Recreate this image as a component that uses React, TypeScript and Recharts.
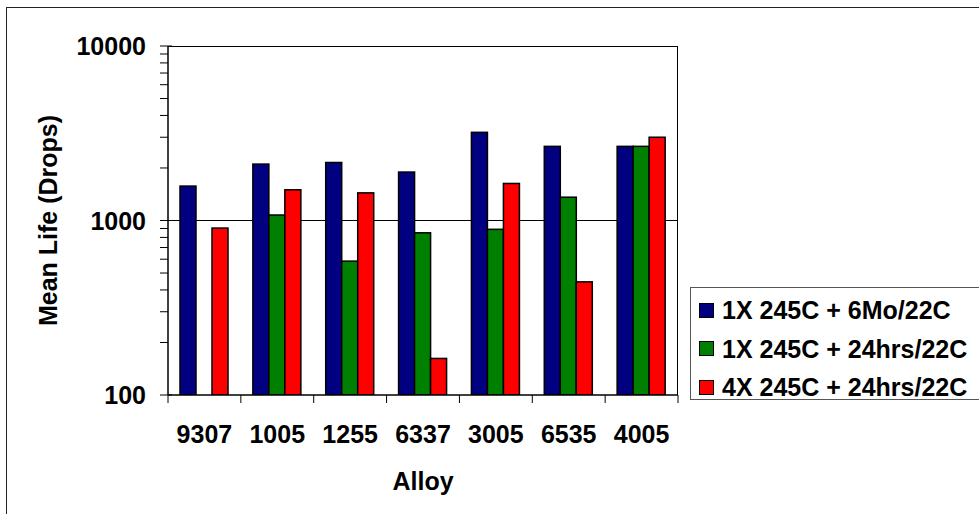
import React from "react";
import {
  Bar,
  BarChart,
  CartesianGrid,
  XAxis,
  YAxis,
} from "recharts";

const alloys = ["9307", "1005", "1255", "6337", "3005", "6535", "4005"];
const sixMonths = [1575, 2105, 2150, 1895, 3200, 2660, 2660];
const oneX24hrs = [null, 1075, 585, 850, 890, 1360, 2660];
const fourX24hrs = [905, 1500, 1440, 162, 1630, 445, 3000];

const seriesNames = [
  "1X 245C + 6Mo/22C",
  "1X 245C + 24hrs/22C",
  "4X 245C + 24hrs/22C",
];
const seriesColors = ["#000080", "#008000", "#FF0000"];

const majorTicks = [100, 1000, 10000];
const gridValues = [1000];
const yTicks = [
  100, 200, 300, 400, 500, 600, 700, 800, 900,
  1000, 2000, 3000, 4000, 5000, 6000, 7000, 8000, 9000, 10000,
];

const W = 979;
const H = 514;
const PLOT_LEFT = 168;
const PLOT_TOP = 46;
const PLOT_RIGHT = 678;
const PLOT_BOTTOM = 395;
const FONT = "'Liberation Sans', Arial, sans-serif";

const data = alloys.map((alloy, i) => ({
  alloy,
  s0: sixMonths[i],
  s1: oneX24hrs[i],
  s2: fourX24hrs[i],
}));

const bandHalf = (PLOT_RIGHT - PLOT_LEFT) / alloys.length / 2;

const YTick = (props: any) => {
  const { x, y, payload } = props;
  const v = payload.value;
  const major = majorTicks.includes(v);
  return (
    <g>
      <line x1={x - 8} x2={major ? x + 4 : x} y1={y} y2={y} stroke="#000" strokeWidth={1} />
      {major && (
        <text
          x={x - 22}
          y={y + 9}
          textAnchor="end"
          fontFamily={FONT}
          fontWeight="bold"
          fontSize={25}
          fill="#000"
        >
          {v}
        </text>
      )}
    </g>
  );
};

const XTick = (props: any) => {
  const { x, y, payload, index } = props;
  return (
    <g>
      <line x1={x - bandHalf} x2={x - bandHalf} y1={y} y2={y + 8} stroke="#000" />
      {index === alloys.length - 1 && (
        <line x1={x + bandHalf} x2={x + bandHalf} y1={y} y2={y + 8} stroke="#000" />
      )}
      <text
        x={x}
        y={y + 48}
        textAnchor="middle"
        fontFamily={FONT}
        fontWeight="bold"
        fontSize={25}
        fill="#000"
      >
        {payload.value}
      </text>
    </g>
  );
};

const OutlinedBar = (props: any) => {
  const { x, y, width, height, fill } = props;
  if (!height || height <= 0) return null;
  return (
    <rect x={x} y={y} width={width} height={height} fill={fill} stroke="#000" strokeWidth={1.5} />
  );
};

export default function App() {
  return (
    <div
      style={{
        position: "absolute",
        left: 0,
        top: 0,
        width: W,
        height: H,
        overflow: "hidden",
        background: "#fff",
      }}
    >
      <div
        style={{
          position: "absolute",
          left: 6,
          top: 7,
          width: W,
          height: H,
          borderLeft: "1.5px solid #222",
          borderTop: "1.5px solid #222",
        }}
      />
      <BarChart
        width={W}
        height={H}
        data={data}
        margin={{ top: PLOT_TOP, right: W - PLOT_RIGHT, bottom: 0, left: 0 }}
        barCategoryGap={12}
        barGap={0}
        style={{ position: "absolute", left: 0, top: 0 }}
      >
        <CartesianGrid
          vertical={false}
          stroke="#000"
          strokeWidth={1}
          horizontalValues={gridValues}
        />
        <XAxis
          dataKey="alloy"
          height={H - PLOT_BOTTOM}
          tickSize={0}
          tickMargin={0}
          interval={0}
          tick={<XTick />}
          axisLine={{ stroke: "#000", strokeWidth: 1.5 }}
          label={{
            content: () => (
              <text
                x={(PLOT_LEFT + PLOT_RIGHT) / 2}
                y={490}
                textAnchor="middle"
                fontFamily={FONT}
                fontWeight="bold"
                fontSize={25}
                fill="#000"
              >
                Alloy
              </text>
            ),
          }}
        />
        <YAxis
          scale="log"
          type="number"
          domain={[100, 10000]}
          allowDataOverflow
          ticks={yTicks}
          interval={0}
          width={PLOT_LEFT}
          tickSize={0}
          tickMargin={0}
          tick={<YTick />}
          axisLine={{ stroke: "#000", strokeWidth: 1.5 }}
          label={{
            content: () => (
              <text
                x={48}
                y={(PLOT_TOP + PLOT_BOTTOM) / 2}
                transform={`rotate(-90 48 ${(PLOT_TOP + PLOT_BOTTOM) / 2})`}
                textAnchor="middle"
                dominantBaseline="central"
                fontFamily={FONT}
                fontWeight="bold"
                fontSize={25}
                fill="#000"
              >
                Mean Life (Drops)
              </text>
            ),
          }}
        />
        {["s0", "s1", "s2"].map((key, i) => (
          <Bar
            key={key}
            dataKey={key}
            name={seriesNames[i]}
            fill={seriesColors[i]}
            shape={<OutlinedBar />}
            isAnimationActive={false}
          />
        ))}
      </BarChart>
      <div
        style={{
          position: "absolute",
          left: PLOT_LEFT,
          top: PLOT_TOP,
          width: PLOT_RIGHT - PLOT_LEFT,
          height: PLOT_BOTTOM - PLOT_TOP,
          borderTop: "1.5px solid #000",
          borderRight: "1.5px solid #000",
          boxSizing: "border-box",
          pointerEvents: "none",
        }}
      />
      <div
        style={{
          position: "absolute",
          left: 690,
          top: 287,
          width: 320,
          height: 113,
          border: "1.5px solid #555",
          boxSizing: "border-box",
          fontFamily: FONT,
          fontWeight: "bold",
          fontSize: 25,
          color: "#000",
        }}
      >
        {seriesNames.map((name, i) => (
          <div
            key={name}
            style={{
              position: "absolute",
              left: 8,
              top: 12 + i * 38.5,
              height: 20,
              display: "flex",
              alignItems: "center",
              whiteSpace: "nowrap",
            }}
          >
            <span
              style={{
                display: "inline-block",
                width: 13,
                height: 13,
                background: seriesColors[i],
                border: "1px solid #000",
                marginRight: 8,
              }}
            />
            <span style={{ lineHeight: "20px" }}>{name}</span>
          </div>
        ))}
      </div>
    </div>
  );
}
